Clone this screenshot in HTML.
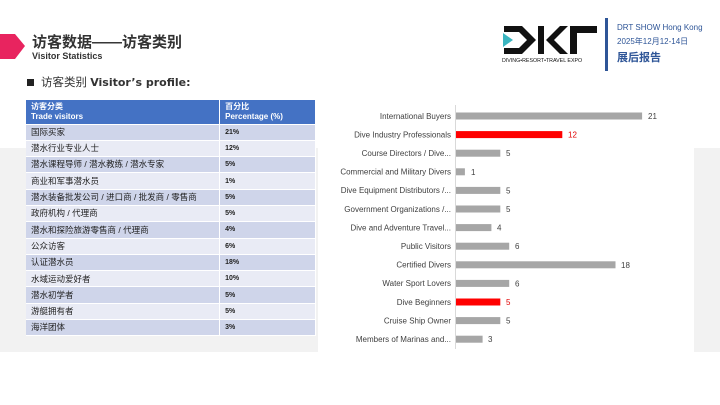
<!DOCTYPE html>
<html><head><meta charset="utf-8"><style>
*{margin:0;padding:0;box-sizing:border-box}
body{width:720px;height:405px;background:#fff;position:relative;overflow:hidden;font-family:"Liberation Sans","Noto Sans CJK SC",sans-serif}
.a{position:absolute;line-height:1}
table{border-collapse:collapse;position:absolute;left:26px;top:100px;width:290px;font-size:8.5px;color:#222}
td{height:16.3px;padding:0 0 0 5px;border-bottom:1px solid #fff;border-right:1px solid #fff;line-height:1}
td.p{font-weight:bold;font-size:7px;width:96px}
tr.o td{background:#cfd5ea}tr.e td{background:#e9ebf5}
tr.h td{background:#4472c4;color:#fff;font-weight:bold;height:24px;line-height:10px;font-size:8px}
</style></head><body>
<div class="a" style="left:0;top:148px;width:720px;height:204px;background:#f2f2f2"></div>
<div class="a" style="left:318px;top:95px;width:376px;height:257px;background:#fff"></div>
<svg class="a" style="left:0;top:34px" width="26" height="25"><polygon points="0,0 15,0 25,12 15,25 0,25" fill="#e8245f"/></svg>
<div class="a" style="left:32px;top:35px;font-size:15px;font-weight:bold;color:#333">访客数据——访客类别</div>
<div class="a" style="left:32px;top:52px;font-size:9px;font-weight:bold;color:#333">Visitor Statistics</div>
<div class="a" style="left:27px;top:77px;font-size:11.5px;color:#333"><span style="display:inline-block;width:7px;height:7px;background:#222;margin-right:7px"></span>访客类别 <b style="font-family:'DejaVu Sans',sans-serif;font-size:11px">Visitor’s profile:</b></div>
<svg class="a" style="left:500px;top:24px" width="100" height="42">
<polygon points="3,9 13,16 3,23" fill="#3ab5c0"/>
<polygon points="4,2 22,2 36,16 22,30 4,30 4,24 19,24 27,16 19,8 4,8" fill="#111"/>
<polygon points="38,2 44,2 44,30 38,30" fill="#111"/><polygon points="46,16 60,2 68,2 54,16 68,30 60,30" fill="#111"/>
<polygon points="70,2 97,2 97,9 77,9 77,30 70,30" fill="#111"/>
<text x="2" y="38" font-size="5.3" font-family="Liberation Sans" fill="#111">DIVING•RESORT•TRAVEL EXPO</text></svg>
<div class="a" style="left:605px;top:18px;width:3px;height:53px;background:#2e5597"></div>
<div class="a" style="left:617px;top:24px;font-size:8px;color:#2e5597">DRT SHOW Hong Kong</div>
<div class="a" style="left:617px;top:38px;font-size:8px;color:#2e5597">2025年12月12-14日</div>
<div class="a" style="left:617px;top:53px;font-size:11px;color:#2e5597;font-weight:bold">展后报告</div>
<table>
<tr class="h"><td style="width:194px">访客分类<br>Trade visitors</td><td class="p" style="font-size:8px">百分比<br>Percentage (%)</td></tr>
<tr class="o"><td>国际买家</td><td class="p">21%</td></tr>
<tr class="e"><td>潜水行业专业人士</td><td class="p">12%</td></tr>
<tr class="o"><td>潜水课程导师 / 潜水教练 / 潜水专家</td><td class="p">5%</td></tr>
<tr class="e"><td>商业和军事潜水员</td><td class="p">1%</td></tr>
<tr class="o"><td>潜水装备批发公司 / 进口商 / 批发商 / 零售商</td><td class="p">5%</td></tr>
<tr class="e"><td>政府机构 / 代理商</td><td class="p">5%</td></tr>
<tr class="o"><td>潜水和探险旅游零售商 / 代理商</td><td class="p">4%</td></tr>
<tr class="e"><td>公众访客</td><td class="p">6%</td></tr>
<tr class="o"><td>认证潜水员</td><td class="p">18%</td></tr>
<tr class="e"><td>水域运动爱好者</td><td class="p">10%</td></tr>
<tr class="o"><td>潜水初学者</td><td class="p">5%</td></tr>
<tr class="e"><td>游艇拥有者</td><td class="p">5%</td></tr>
<tr class="o"><td>海洋团体</td><td class="p">3%</td></tr>
</table>
<svg class="a" style="left:0;top:0" width="720" height="405" font-family="Liberation Sans" font-size="8">
<line x1="455.5" y1="105" x2="455.5" y2="349" stroke="#d9d9d9"/>
<g text-anchor="end" fill="#404040">
<text x="451" y="118.8">International Buyers</text>
<text x="451" y="137.4">Dive Industry Professionals</text>
<text x="451" y="156">Course Directors / Dive...</text>
<text x="451" y="174.6">Commercial and Military Divers</text>
<text x="451" y="193.2">Dive Equipment Distributors /...</text>
<text x="451" y="211.8">Government Organizations /...</text>
<text x="451" y="230.4">Dive and Adventure Travel...</text>
<text x="451" y="249">Public Visitors</text>
<text x="451" y="267.6">Certified Divers</text>
<text x="451" y="286.2">Water Sport Lovers</text>
<text x="451" y="304.8">Dive Beginners</text>
<text x="451" y="323.4">Cruise Ship Owner</text>
<text x="451" y="342">Members of Marinas and...</text>
</g>
<g fill="#a6a6a6">
<rect x="456" y="112.5" width="186.1" height="7"/>
<rect x="456" y="149.7" width="44.3" height="7"/>
<rect x="456" y="168.3" width="8.9" height="7"/>
<rect x="456" y="186.9" width="44.3" height="7"/>
<rect x="456" y="205.5" width="44.3" height="7"/>
<rect x="456" y="224.1" width="35.4" height="7"/>
<rect x="456" y="242.7" width="53.2" height="7"/>
<rect x="456" y="261.3" width="159.5" height="7"/>
<rect x="456" y="279.9" width="53.2" height="7"/>
<rect x="456" y="317.1" width="44.3" height="7"/>
<rect x="456" y="335.7" width="26.6" height="7"/>
</g>
<g fill="#ff0000">
<rect x="456" y="131.1" width="106.3" height="7"/>
<rect x="456" y="298.5" width="44.3" height="7"/>
</g>
<g fill="#404040">
<text x="648" y="119">21</text>
<text x="506" y="156.2">5</text>
<text x="471" y="174.8">1</text>
<text x="506" y="193.4">5</text>
<text x="506" y="212">5</text>
<text x="497" y="230.6">4</text>
<text x="515" y="249.2">6</text>
<text x="621" y="267.8">18</text>
<text x="515" y="286.4">6</text>
<text x="506" y="323.6">5</text>
<text x="488" y="342.2">3</text>
</g>
<g fill="#e00000">
<text x="568" y="137.6">12</text>
<text x="506" y="305">5</text>
</g>
</svg>
</body></html>
